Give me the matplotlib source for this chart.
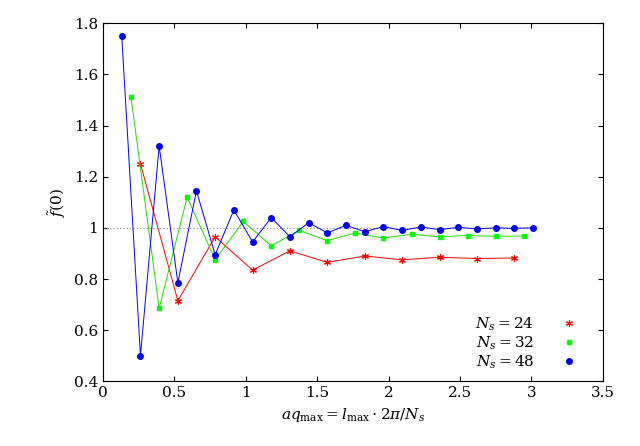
import matplotlib
matplotlib.use("Agg")
import matplotlib.pyplot as plt
from matplotlib.lines import Line2D

x24 = [0.262, 0.524, 0.785, 1.047, 1.309, 1.571, 1.833, 2.094, 2.356, 2.618, 2.880]
y24 = [1.25, 0.715, 0.965, 0.835, 0.91, 0.865, 0.89, 0.875, 0.885, 0.88, 0.882]
x32 = [0.196, 0.393, 0.589, 0.785, 0.982, 1.178, 1.374, 1.571, 1.767, 1.963, 2.160, 2.356, 2.553, 2.749, 2.945]
y32 = [1.51, 0.685, 1.12, 0.875, 1.025, 0.93, 0.99, 0.95, 0.98, 0.96, 0.975, 0.965, 0.97, 0.967, 0.968]
x48 = [0.131, 0.262, 0.393, 0.524, 0.654, 0.785, 0.916, 1.047, 1.178, 1.309, 1.440, 1.571,
       1.702, 1.833, 1.963, 2.094, 2.225, 2.356, 2.487, 2.618, 2.749, 2.880, 3.011]
y48 = [1.75, 0.5, 1.32, 0.785, 1.145, 0.895, 1.07, 0.945, 1.04, 0.965, 1.02, 0.98,
       1.01, 0.985, 1.005, 0.99, 1.003, 0.993, 1.002, 0.996, 1.0, 0.998, 1.0]

plt.rcParams["font.family"] = "DejaVu Serif"
plt.rcParams["mathtext.fontset"] = "dejavuserif"
fig = plt.figure(figsize=(6.4, 4.46), dpi=100)
ax = fig.add_axes([0.161, 0.145, 0.781, 0.803])
ax.plot([0, 3.011], [1, 1], ls=(0, (1, 2)), color="#888888", lw=0.8)
ast = (6, 2, 0)
ax.plot(x24, y24, color="red", lw=0.7, marker=ast, ms=5, mew=0.8)
ax.plot(x32, y32, color="#22dd00", lw=0.7, marker="s", ms=3.5, mfc="#00ff00", mec="#00ff00")
ax.plot(x48, y48, color="blue", lw=0.7, marker="o", ms=4)
ax.set_xlim(0, 3.5)
ax.set_ylim(0.4, 1.8)
ax.set_xticks([0, 0.5, 1, 1.5, 2, 2.5, 3, 3.5])
ax.set_xticklabels(["0", "0.5", "1", "1.5", "2", "2.5", "3", "3.5"])
ax.set_yticks([0.4, 0.6, 0.8, 1, 1.2, 1.4, 1.6, 1.8])
ax.set_yticklabels(["0.4", "0.6", "0.8", "1", "1.2", "1.4", "1.6", "1.8"])
ax.tick_params(direction="in", top=True, right=True, labelsize=11)
ax.set_xlabel(r"$aq_{\rm max} = l_{\rm max}\cdot 2\pi/N_s$", fontsize=11)
ax.set_ylabel(r"$\tilde{f}(0)$", fontsize=11)
handles = [
    Line2D([], [], ls="none", marker=ast, color="red", ms=5, mew=0.8),
    Line2D([], [], ls="none", marker="s", color="#00ff00", ms=3.5),
    Line2D([], [], ls="none", marker="o", color="blue", ms=4),
]
ax.legend(handles, [r"$N_s = 24$", r"$N_s = 32$", r"$N_s = 48$"], loc="lower right",
          frameon=False, markerfirst=False, fontsize=11, numpoints=1,
          handlelength=3, borderaxespad=0.3, labelspacing=0.1)
fig.savefig("out.png", dpi=100)
